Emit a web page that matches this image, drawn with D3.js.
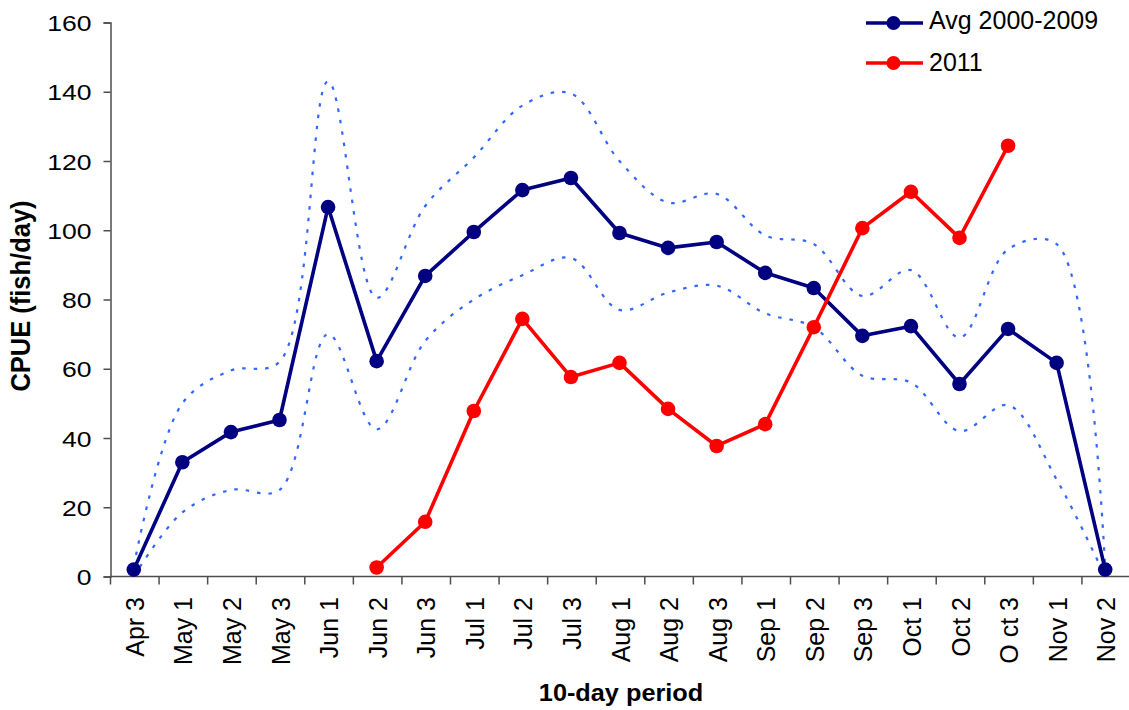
<!DOCTYPE html>
<html>
<head>
<meta charset="utf-8">
<script src="https://cdn.jsdelivr.net/npm/d3@7"></script>
<style>
  html, body { margin: 0; padding: 0; background: #fff; }
  svg { display: block; font-family: Arial, "Liberation Sans", sans-serif; }
</style>
</head>
<body>
<svg id="chart" width="1129" height="710"></svg>
<script>
// 10-day periods along the season
const periods = ["Apr 3","May 1","May 2","May 3","Jun 1","Jun 2","Jun 3","Jul 1","Jul 2","Jul 3",
                 "Aug 1","Aug 2","Aug 3","Sep 1","Sep 2","Sep 3","Oct 1","Oct 2","O ct 3","Nov 1","Nov 2"];

// Mean CPUE 2000-2009
const avg = [2, 33, 41.7, 45.2, 106.7, 62.2, 86.8, 99.5, 111.6, 115.1,
             99.2, 94.9, 96.6, 87.7, 83.3, 69.5, 72.3, 55.6, 71.5, 61.7, 2];

// CPUE 2011 (season started Jun 2, no data for November)
const cpue2011 = [null, null, null, null, null, 2.6, 15.8, 47.8, 74.4, 57.6,
                  61.7, 48.4, 37.7, 44, 72, 100.6, 111.1, 97.8, 124.4, null, null];

// Upper and lower envelope around the 2000-2009 mean
const upper = [3, 50, 59.5, 62, 143, 80.5, 107, 121, 136, 139.5,
               120, 108, 110.5, 98.5, 96, 81, 88.5, 69, 94.5, 96, 2];
const lower = [0, 18.5, 25, 25, 70, 42.5, 68, 80, 87, 92,
               77, 82, 84, 76, 72, 58, 56, 42, 49.5, 28, 0];

const yTicks = [0, 20, 40, 60, 80, 100, 120, 140, 160];

const seriesInfo = [
  { name: "Avg 2000-2009", values: avg, color: "#000080" },
  { name: "2011", values: cpue2011, color: "#FF0000" }
];

const svg = d3.select("#chart");
const axisColor = "#4d4d4d";

const x = d3.scaleBand().domain(periods).range([110.5, 1130.5]);
const xc = d => x(d) + x.bandwidth() / 2 - 1;
const y = d3.scaleLinear().domain([0, 160]).range([576.5, 22.5]);

// Y axis
const yAxis = svg.append("g").attr("transform", "translate(110.5,0)")
  .call(d3.axisLeft(y).tickValues(yTicks).tickSize(7).tickFormat(d3.format("d")));
yAxis.select(".domain").attr("stroke", axisColor).attr("stroke-width", 1.5);
yAxis.selectAll(".tick line").attr("stroke", axisColor).attr("stroke-width", 1.5);
yAxis.selectAll(".tick text")
  .attr("x", null).attr("dy", null)
  .attr("font-size", 22.5).attr("fill", "#000").attr("text-anchor", "end")
  .attr("transform", "translate(-19,8) scale(1.18,1)");

// X axis with ticks on band boundaries
const xAxisG = svg.append("g");
xAxisG.append("line")
  .attr("x1", 110.5).attr("x2", 1130).attr("y1", y(0)).attr("y2", y(0))
  .attr("stroke", axisColor).attr("stroke-width", 1.5);
const bounds = periods.map(p => x(p)).concat([x.range()[1]]);
xAxisG.selectAll("line.tk").data(bounds).join("line").attr("class", "tk")
  .attr("x1", d => d).attr("x2", d => d)
  .attr("y1", y(0)).attr("y2", y(0) + 8)
  .attr("stroke", axisColor).attr("stroke-width", 1.5);
xAxisG.selectAll("text").data(periods).join("text")
  .attr("transform", d => `translate(${xc(d) + 10},597) rotate(-90)`)
  .attr("text-anchor", "end")
  .attr("font-size", 25)
  .attr("fill", "#000")
  .text(d => d);

// Axis titles
svg.append("text")
  .attr("transform", "translate(30,296) scale(1.08,1) rotate(-90)")
  .attr("text-anchor", "middle").attr("font-weight", "bold").attr("font-size", 25.5)
  .text("CPUE (fish/day)");
svg.append("text")
  .attr("transform", "translate(621,701) scale(1.1,1)")
  .attr("text-anchor", "middle").attr("font-weight", "bold").attr("font-size", 23)
  .text("10-day period");

// Dotted envelope curves
const smooth = d3.line()
  .x((d, i) => xc(periods[i]))
  .y(d => y(d))
  .curve(d3.curveCatmullRom.alpha(0.5));
[upper, lower].forEach(arr => {
  svg.append("path")
    .attr("d", smooth(arr))
    .attr("fill", "none")
    .attr("stroke", "#3366FF")
    .attr("stroke-width", 2.2)
    .attr("stroke-dasharray", "3.5,8");
});

// Series lines and markers
const straight = d3.line()
  .defined(d => d != null)
  .x((d, i) => xc(periods[i]))
  .y(d => y(d));
seriesInfo.forEach(s => {
  svg.append("path")
    .attr("d", straight(s.values))
    .attr("fill", "none")
    .attr("stroke", s.color)
    .attr("stroke-width", 3.6)
    .attr("stroke-linejoin", "round");
  svg.append("g").selectAll("circle")
    .data(s.values.map((v, i) => ({ v, p: periods[i] })).filter(d => d.v != null))
    .join("circle")
    .attr("cx", d => xc(d.p))
    .attr("cy", d => y(d.v))
    .attr("r", 7.3)
    .attr("fill", s.color);
});

// Legend
const legend = svg.append("g");
seriesInfo.forEach((s, i) => {
  const ly = 23 + i * 40;
  legend.append("line")
    .attr("x1", 866).attr("x2", 923).attr("y1", ly).attr("y2", ly)
    .attr("stroke", s.color).attr("stroke-width", 3.6);
  legend.append("circle").attr("cx", 893.5).attr("cy", ly).attr("r", 7).attr("fill", s.color);
  legend.append("text")
    .attr("x", 929).attr("y", ly + 6 - (i === 0 ? 0.5 : -1.5))
    .attr("font-size", 25).attr("fill", "#000")
    .text(s.name);
});
</script>
</body>
</html>
